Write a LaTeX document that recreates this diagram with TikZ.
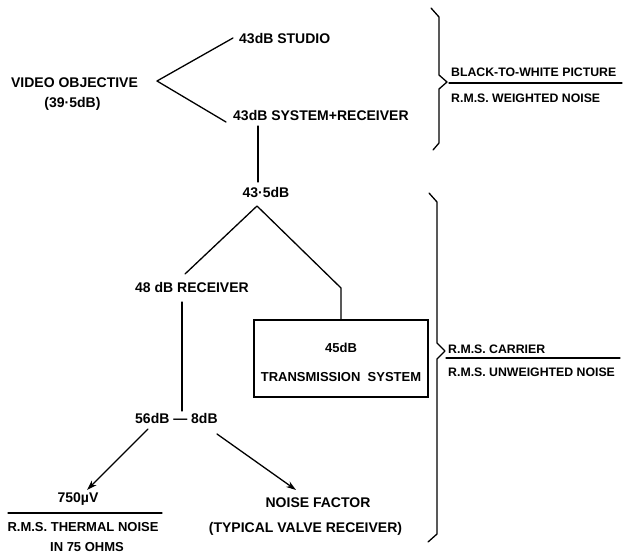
\documentclass[tikz,border=0pt]{standalone}
\usepackage{fontspec}
\setmainfont{Liberation Sans}
\usetikzlibrary{arrows.meta}
\tikzset{
  lbl/.style={font=\bfseries\fontsize{14}{16}\selectfont, inner sep=0pt, anchor=base west},
  lblc/.style={font=\bfseries\fontsize{14}{16}\selectfont, inner sep=0pt, anchor=base},
  lblr/.style={font=\bfseries\fontsize{12.3}{14}\selectfont, inner sep=0pt, anchor=base west},
  lbls/.style={font=\bfseries\fontsize{13}{15}\selectfont, inner sep=0pt, anchor=base},
  ln/.style={line width=1.3pt, line cap=round, line join=round},
  arr/.style={ln, -{Stealth[length=10pt,width=6.5pt]}},
  boxed/.style={draw, line width=1.3pt, minimum width=174pt, minimum height=77pt, inner sep=0pt}
}
\begin{document}
\begin{tikzpicture}[x=1pt,y=-1pt]
\useasboundingbox (0,0) rectangle (624,554);

% top section
\node[lblc] (vo1) at (74.5,87) {VIDEO OBJECTIVE};
\node[lblc] (vo2) at (72.5,107) {(39·5dB)};
\node[lbl] (studio) at (239,43) {43dB STUDIO};
\node[lbl] (sysrec) at (233,120) {43dB SYSTEM+RECEIVER};

\coordinate (v) at (157,81);
\coordinate (vs) at (233,38);
\coordinate (vr) at (226,122);
\draw[ln] (vs) -- (v) -- (vr);

\coordinate (sr1) at (258,126);
\coordinate (sr2) at (258,182);
\draw[ln] (sr1) -- (sr2);

% middle section
\node[lblc] (d435) at (266,197) {43·5dB};
\node[lbl] (rec48) at (135,292) {48 dB RECEIVER};
\node[boxed] (tbox) at (341,358.5) {};
\node[lbls] (t45) at (tbox.center |- 0,352) {45dB};
\node[lbls] (tsys) at (tbox.center |- 0,381) {TRANSMISSION\ \ SYSTEM};

\coordinate (apex) at (257,206);
\coordinate (al) at (185,274);
\coordinate (ar) at (341,288);
\draw[ln] (al) -- (apex) -- (ar) -- (ar |- tbox.north);

\coordinate (rv1) at (182,302);
\coordinate (rv2) at (182,411);
\draw[ln] (rv1) -- (rv2);

% bottom section
\node[lbl] (d56) at (135,423) {56dB — 8dB};
\coordinate (a1s) at (148,429);
\coordinate (a1e) at (87,490);
\coordinate (a2s) at (217,434);
\coordinate (a2e) at (296,490);
\draw[arr] (a1s) -- (a1e);
\draw[arr] (a2s) -- (a2e);

\node[lblc] (uv) at (78,502) {750µV};
\coordinate (f1a) at (8,513);
\coordinate (f1b) at (162,513);
\draw[ln] (f1a) -- (f1b);
\node[lbls] (thn) at (83,531) {R.M.S. THERMAL NOISE};
\node[lbls] (ohm) at (87,551) {IN 75 OHMS};

\node[lblc] (nf) at (318,507) {NOISE FACTOR};
\node[lblc] (tvr) at (305.5,532) {(TYPICAL VALVE RECEIVER)};

% right side: top bracket
\coordinate (b1a) at (431,8);
\coordinate (b1b) at (439,17);
\coordinate (b1c) at (439,75);
\coordinate (b1m) at (447,82);
\coordinate (b1d) at (439,89);
\coordinate (b1e) at (439,143);
\coordinate (b1f) at (433,150);
\draw[ln] (b1a) -- (b1b) -- (b1c) -- (b1m) -- (b1d) -- (b1e) -- (b1f);

\node[lblr] (bw) at (451,76) {BLACK-TO-WHITE PICTURE};
\coordinate (f2a) at (449,83);
\coordinate (f2b) at (622,83);
\draw[ln] (f2a) -- (f2b);
\node[lblr] (wn) at (451,102) {R.M.S. WEIGHTED NOISE};

% right side: bottom bracket
\coordinate (b2a) at (429,193);
\coordinate (b2b) at (437,202);
\coordinate (b2c) at (437,343);
\coordinate (b2m) at (445,351);
\coordinate (b2d) at (437,359);
\coordinate (b2e) at (437,534);
\coordinate (b2f) at (428,542);
\draw[ln] (b2a) -- (b2b) -- (b2c) -- (b2m) -- (b2d) -- (b2e) -- (b2f);

\node[lblr] (car) at (448,353) {R.M.S. CARRIER};
\coordinate (f3a) at (446,358);
\coordinate (f3b) at (620,358);
\draw[ln] (f3a) -- (f3b);
\node[lblr] (un) at (448,376) {R.M.S. UNWEIGHTED NOISE};
\end{tikzpicture}
\end{document}
